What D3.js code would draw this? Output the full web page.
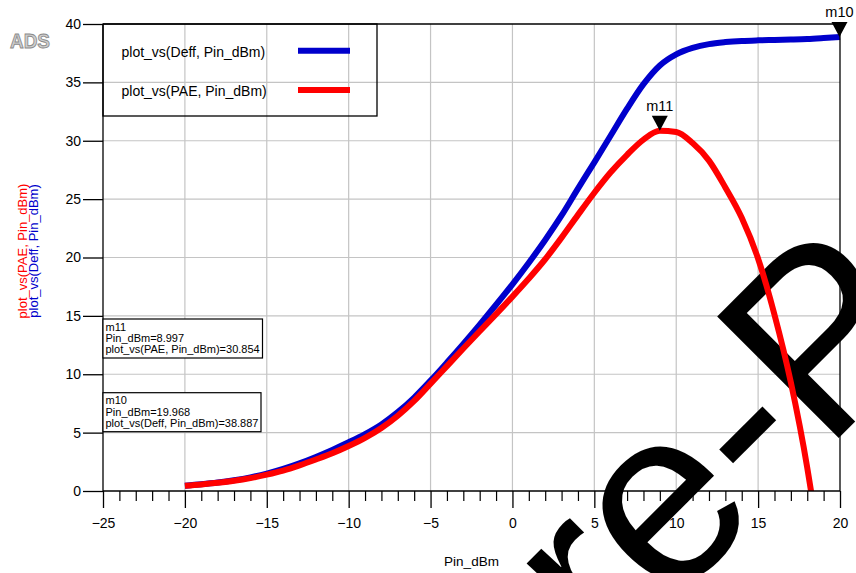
<!DOCTYPE html>
<html>
<head>
<meta charset="utf-8">
<script src="https://cdn.jsdelivr.net/npm/d3@7"></script>
<style>
  html, body { margin: 0; padding: 0; background: #fff; }
  svg { display: block; font-family: "Liberation Sans", Arial, sans-serif; }
</style>
</head>
<body>
<svg id="chart" width="856" height="573"></svg>
<script>
// ---- data ----
const pinDbm = [-20,-19,-18,-17,-16,-15,-14,-13,-12,-11,-10,-9,-8,-7,-6,-5,-4,-3,-2,-1,0,
                1,2,3,4,5,6,7,8,9,10,11,12,13,14,15,16,17,18,19,20];
const deff   = [0.45,0.57,0.72,0.92,1.17,1.49,1.89,2.37,2.92,3.52,4.17,4.87,5.7,6.75,8.0,9.45,11.0,12.6,14.25,15.95,17.7,
                19.55,21.5,23.6,25.9,28.15,30.45,32.75,34.85,36.45,37.4,37.95,38.28,38.45,38.55,38.6,38.63,38.67,38.72,38.8,38.89];
const pae    = [0.45,0.56,0.7,0.87,1.1,1.4,1.75,2.2,2.7,3.23,3.85,4.55,5.4,6.45,7.72,9.2,10.7,12.2,13.68,15.15,16.65,
                18.2,19.85,21.7,23.65,25.55,27.3,28.8,30.1,30.85,30.75,29.8,28.3,26.0,23.4,19.9,15.1,9.3,2.0,-7.5,-19];
const xTicks = [-25,-20,-15,-10,-5,0,5,10,15,20];
const yTicks = [0,5,10,15,20,25,30,35,40];
const seriesNames = ["plot_vs(Deff, Pin_dBm)", "plot_vs(PAE, Pin_dBm)"];
const markerNames = ["m11", "m10"];
const markerX = [8.997, 19.968];
const markerY = [30.854, 38.887];
const markerSeries = ["plot_vs(PAE, Pin_dBm)", "plot_vs(Deff, Pin_dBm)"];
const xTitle = "Pin_dBm";
const watermarkLeft = "Pre-";
const watermarkRight = "Print";

// ---- layout ----
const svg = d3.select("#chart");
const x = d3.scaleLinear().domain([-25, 20]).range([103, 840]);
const y = d3.scaleLinear().domain([0, 40]).range([491, 24]);
const BLUE = "#0000cc", RED = "#ff0000", GRID = "#c4c4c4";

// ADS logo
svg.append("text").attr("x", 10).attr("y", 48)
  .attr("font-size", 21).attr("font-weight", "bold")
  .attr("textLength", 40).attr("lengthAdjust", "spacingAndGlyphs")
  .attr("fill", "#cfcfcf").attr("stroke", "#8a8a8a").attr("stroke-width", 0.9)
  .text("ADS");

// grid
const g = svg.append("g");
g.selectAll("line.vg").data(xTicks.filter(d => d > -25 && d < 20)).enter().append("line")
  .attr("x1", d => x(d)).attr("x2", d => x(d)).attr("y1", y(40)).attr("y2", y(0))
  .attr("stroke", GRID).attr("stroke-width", 1.2);
g.selectAll("line.hg").data(yTicks.filter(d => d > 0 && d < 40)).enter().append("line")
  .attr("x1", x(-25)).attr("x2", x(20)).attr("y1", d => y(d)).attr("y2", d => y(d))
  .attr("stroke", GRID).attr("stroke-width", 1.2);

// watermark
const wm = svg.append("g").attr("transform", "translate(824.2,452.4) rotate(-45)")
  .attr("font-size", 250).attr("fill", "#000");
wm.append("text").attr("x", 0).attr("y", 0).attr("text-anchor", "end").text(watermarkLeft);
wm.append("text").attr("x", 0).attr("y", 0).attr("text-anchor", "start").text(watermarkRight);

// clip
svg.append("clipPath").attr("id", "plotclip").append("rect")
  .attr("x", x(-25)).attr("y", y(40) - 6).attr("width", x(20) - x(-25) + 6).attr("height", y(0) - y(40) + 6);

const line = (vals) => d3.line()
  .curve(d3.curveMonotoneX)
  .x((d, i) => x(pinDbm[i])).y(d => y(d))(vals);

const curves = svg.append("g").attr("clip-path", "url(#plotclip)");
curves.append("path").attr("d", line(deff)).attr("fill", "none")
  .attr("stroke", BLUE).attr("stroke-width", 6).attr("stroke-linejoin", "round");
curves.append("path").attr("d", line(pae)).attr("fill", "none")
  .attr("stroke", RED).attr("stroke-width", 6).attr("stroke-linejoin", "round");

// frame
const frame = svg.append("g").attr("stroke", "#000").attr("stroke-width", 1.3);
frame.append("line").attr("x1", x(-25)).attr("x2", x(-25)).attr("y1", y(40)).attr("y2", y(0));
frame.append("line").attr("x1", x(20)).attr("x2", x(20)).attr("y1", y(40)).attr("y2", y(0));
frame.append("line").attr("x1", x(-25)).attr("x2", x(20)).attr("y1", y(40)).attr("y2", y(40));
frame.append("line").attr("x1", x(-25)).attr("x2", x(20)).attr("y1", y(0)).attr("y2", y(0));

// y axis ticks + labels
const yAxis = svg.append("g").attr("transform", `translate(${x(-25)},0)`)
  .call(d3.axisLeft(y).tickValues(yTicks).tickSize(20).tickPadding(2).tickFormat(d3.format("d")));
yAxis.select(".domain").remove();
yAxis.selectAll(".tick line").attr("stroke", "#000").attr("stroke-width", 1.3);
yAxis.selectAll(".tick text").attr("font-size", 14).attr("fill", "#000")
  .attr("font-family", "Liberation Sans, Arial, sans-serif");

// x axis minor + major ticks
const minor = d3.range(-25, 21, 1).filter(d => !xTicks.includes(d));
const xAxisMinor = svg.append("g").attr("transform", `translate(0,${y(0)})`)
  .call(d3.axisBottom(x).tickValues(minor).tickSize(10).tickFormat(""));
xAxisMinor.select(".domain").remove();
xAxisMinor.selectAll(".tick line").attr("stroke", "#000").attr("stroke-width", 1.2);
const xAxis = svg.append("g").attr("transform", `translate(0,${y(0)})`)
  .call(d3.axisBottom(x).tickValues(xTicks).tickSize(17).tickPadding(10).tickFormat(d3.format("d")));
xAxis.select(".domain").remove();
xAxis.selectAll(".tick line").attr("stroke", "#000").attr("stroke-width", 1.3);
xAxis.selectAll(".tick text").attr("font-size", 14).attr("fill", "#000")
  .attr("font-family", "Liberation Sans, Arial, sans-serif");

// axis titles
svg.append("text").attr("x", (x(-25) + x(20)) / 2).attr("y", 566)
  .attr("text-anchor", "middle").attr("font-size", 13.5).text(xTitle);
svg.append("text").attr("transform", "translate(26.5,251) rotate(-90)")
  .attr("text-anchor", "middle").attr("font-size", 13).attr("fill", RED).text(seriesNames[1]);
svg.append("text").attr("transform", "translate(37.5,251) rotate(-90)")
  .attr("text-anchor", "middle").attr("font-size", 13).attr("fill", BLUE).text(seriesNames[0]);

// legend
svg.append("rect").attr("x", 103).attr("y", 24).attr("width", 274).attr("height", 92)
  .attr("fill", "none").attr("stroke", "#000").attr("stroke-width", 1.3);
const legColors = [BLUE, RED];
const legY = [50.7, 90];
seriesNames.forEach((n, i) => {
  svg.append("text").attr("x", 121.5).attr("y", legY[i] + 5.8).attr("font-size", 14).text(n);
  svg.append("line").attr("x1", 298).attr("x2", 350).attr("y1", legY[i]).attr("y2", legY[i])
    .attr("stroke", legColors[i]).attr("stroke-width", 6);
});

// markers
markerNames.forEach((m, i) => {
  const px = x(markerX[i]), py = y(markerY[i]);
  svg.append("path").attr("d", `M${px},${py} L${px - 8},${py - 15} L${px + 8},${py - 15} Z`).attr("fill", "#000");
  svg.append("text").attr("x", px).attr("y", py - 20).attr("text-anchor", "middle")
    .attr("font-size", 14.5).text(m);
});

// marker readout boxes
const boxTop = [319, 392.7];
const boxW = [159.5, 158];
markerNames.forEach((m, i) => {
  svg.append("rect").attr("x", 103).attr("y", boxTop[i]).attr("width", boxW[i]).attr("height", 39)
    .attr("fill", "#fff").attr("stroke", "#000").attr("stroke-width", 1.2);
  const lines = [m, `Pin_dBm=${markerX[i].toFixed(3)}`, `${markerSeries[i]}=${markerY[i].toFixed(3)}`];
  lines.forEach((t, j) => {
    svg.append("text").attr("x", 105.5).attr("y", boxTop[i] + 11.5 + j * 11.3)
      .attr("font-size", 11).text(t);
  });
});
</script>
</body>
</html>
